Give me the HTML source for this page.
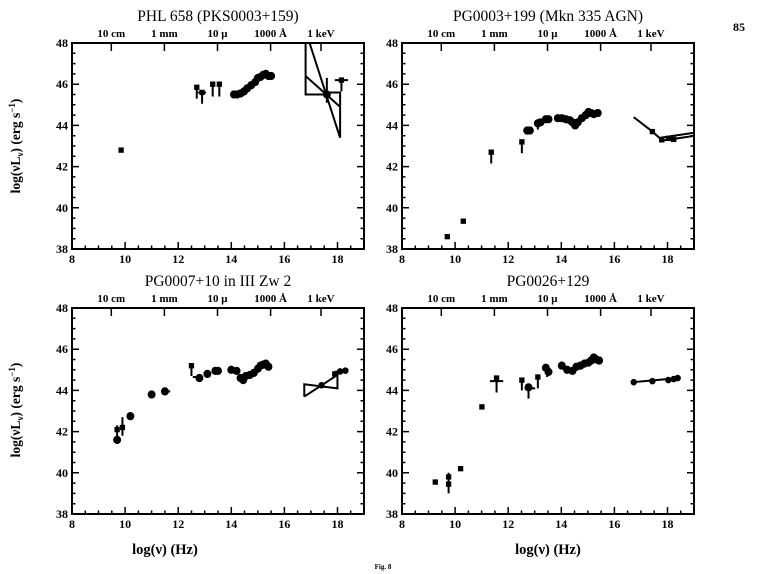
<!DOCTYPE html>
<html><head><meta charset="utf-8"><style>
html,body{margin:0;padding:0;background:#fff}
svg{display:block}
text{font-family:"Liberation Serif",serif;font-weight:bold;fill:#000}
.t{font-weight:normal}
.l{stroke:#000;stroke-width:2;fill:none;vector-effect:non-scaling-stroke}
.d rect,.d ellipse{fill:#000}
</style></head><body>
<svg width="768" height="574" viewBox="0 0 768 574">
<defs>
<g id="fr">
<rect x="0" y="0" width="292" height="206" fill="none" stroke="#000" stroke-width="2"/>
<path stroke="#000" stroke-width="1.5" fill="none" d="
M13.3 206V202.5M26.5 206V202.5M39.8 206V202.5M53.1 206V199M66.4 206V202.5M79.6 206V202.5M92.9 206V202.5M106.2 206V199M119.5 206V202.5M132.7 206V202.5M146 206V202.5M159.3 206V199M172.5 206V202.5M185.8 206V202.5M199.1 206V202.5M212.4 206V199M225.6 206V202.5M238.9 206V202.5M252.2 206V202.5M265.5 206V199M278.7 206V202.5
M39.3 0V8M92.4 0V8M145.5 0V8M198.6 0V8M249 0V8
M0 195.7H3.5M0 185.4H3.5M0 175.1H3.5M0 164.8H7M0 154.5H3.5M0 144.2H3.5M0 133.9H3.5M0 123.6H7M0 113.3H3.5M0 103H3.5M0 92.7H3.5M0 82.4H7M0 72.1H3.5M0 61.8H3.5M0 51.5H3.5M0 41.2H7M0 30.9H3.5M0 20.6H3.5M0 10.3H3.5
M292 195.7H288.5M292 185.4H288.5M292 175.1H288.5M292 164.8H285M292 154.5H288.5M292 144.2H288.5M292 133.9H288.5M292 123.6H285M292 113.3H288.5M292 103H288.5M292 92.7H288.5M292 82.4H285M292 72.1H288.5M292 61.8H288.5M292 51.5H288.5M292 41.2H285M292 30.9H288.5M292 20.6H288.5M292 10.3H288.5"/>
</g>
</defs>

<text x="733" y="31" font-size="12">85</text>
<text x="383" y="569" font-size="7" text-anchor="middle">Fig. 8</text>
<text transform="translate(20,146) rotate(-90)" font-size="13.5" text-anchor="middle">log(νL<tspan font-size="9" dy="3">ν</tspan><tspan dy="-3">) (erg s</tspan><tspan font-size="9" dy="-5">−1</tspan><tspan dy="5">)</tspan></text>
<text transform="translate(20,410) rotate(-90)" font-size="13.5" text-anchor="middle">log(νL<tspan font-size="9" dy="3">ν</tspan><tspan dy="-3">) (erg s</tspan><tspan font-size="9" dy="-5">−1</tspan><tspan dy="5">)</tspan></text>
<text x="165" y="554" font-size="14.5" text-anchor="middle">log(ν) (Hz)</text>
<text x="548" y="554" font-size="14.5" text-anchor="middle">log(ν) (Hz)</text>

<text class="t" x="218" y="21" font-size="15.5" text-anchor="middle">PHL 658 (PKS0003+159)</text>
<text class="t" x="548" y="21" font-size="15.5" text-anchor="middle">PG0003+199 (Mkn 335 AGN)</text>
<text class="t" x="218" y="286" font-size="15.5" text-anchor="middle">PG0007+10 in III Zw 2</text>
<text class="t" x="548" y="286" font-size="15.5" text-anchor="middle">PG0026+129</text>

<g transform="translate(72,43)">
<use href="#fr"/>
<g font-size="11" text-anchor="middle"><text x="39.3" y="-6">10 cm</text><text x="92.4" y="-6">1 mm</text><text x="145.5" y="-6">10 μ</text><text x="198.6" y="-6">1000 Å</text><text x="249" y="-6">1 keV</text></g>
<g font-size="12" text-anchor="middle"><text x="0" y="220">8</text><text x="53.1" y="220">10</text><text x="106.2" y="220">12</text><text x="159.3" y="220">14</text><text x="212.4" y="220">16</text><text x="265.5" y="220">18</text></g>
<g font-size="12" text-anchor="end"><text x="-4" y="210">38</text><text x="-4" y="168.8">40</text><text x="-4" y="127.6">42</text><text x="-4" y="86.4">44</text><text x="-4" y="45.2">46</text><text x="-4" y="4">48</text></g>
</g>
<g transform="translate(402,43)">
<use href="#fr"/>
<g font-size="11" text-anchor="middle"><text x="39.3" y="-6">10 cm</text><text x="92.4" y="-6">1 mm</text><text x="145.5" y="-6">10 μ</text><text x="198.6" y="-6">1000 Å</text><text x="249" y="-6">1 keV</text></g>
<g font-size="12" text-anchor="middle"><text x="0" y="220">8</text><text x="53.1" y="220">10</text><text x="106.2" y="220">12</text><text x="159.3" y="220">14</text><text x="212.4" y="220">16</text><text x="265.5" y="220">18</text></g>
<g font-size="12" text-anchor="end"><text x="-4" y="210">38</text><text x="-4" y="168.8">40</text><text x="-4" y="127.6">42</text><text x="-4" y="86.4">44</text><text x="-4" y="45.2">46</text><text x="-4" y="4">48</text></g>
</g>
<g transform="translate(72,308)">
<use href="#fr"/>
<g font-size="11" text-anchor="middle"><text x="39.3" y="-6">10 cm</text><text x="92.4" y="-6">1 mm</text><text x="145.5" y="-6">10 μ</text><text x="198.6" y="-6">1000 Å</text><text x="249" y="-6">1 keV</text></g>
<g font-size="12" text-anchor="middle"><text x="0" y="220">8</text><text x="53.1" y="220">10</text><text x="106.2" y="220">12</text><text x="159.3" y="220">14</text><text x="212.4" y="220">16</text><text x="265.5" y="220">18</text></g>
<g font-size="12" text-anchor="end"><text x="-4" y="210">38</text><text x="-4" y="168.8">40</text><text x="-4" y="127.6">42</text><text x="-4" y="86.4">44</text><text x="-4" y="45.2">46</text><text x="-4" y="4">48</text></g>
</g>
<g transform="translate(402,308)">
<use href="#fr"/>
<g font-size="11" text-anchor="middle"><text x="39.3" y="-6">10 cm</text><text x="92.4" y="-6">1 mm</text><text x="145.5" y="-6">10 μ</text><text x="198.6" y="-6">1000 Å</text><text x="249" y="-6">1 keV</text></g>
<g font-size="12" text-anchor="middle"><text x="0" y="220">8</text><text x="53.1" y="220">10</text><text x="106.2" y="220">12</text><text x="159.3" y="220">14</text><text x="212.4" y="220">16</text><text x="265.5" y="220">18</text></g>
<g font-size="12" text-anchor="end"><text x="-4" y="210">38</text><text x="-4" y="168.8">40</text><text x="-4" y="127.6">42</text><text x="-4" y="86.4">44</text><text x="-4" y="45.2">46</text><text x="-4" y="4">48</text></g>
</g>

<svg x="72" y="43" width="292" height="206" viewBox="8 -48 11 10" preserveAspectRatio="none" overflow="hidden" class="d">
<rect x="9.75" y="-42.93" width=".2" height=".26"/>
<rect x="12.6" y="-45.98" width=".2" height=".26"/>
<rect x="12.8" y="-45.73" width=".2" height=".26"/>
<rect x="13.2" y="-46.13" width=".2" height=".26"/>
<rect x="13.45" y="-46.13" width=".2" height=".26"/>
<rect x="18.05" y="-46.33" width=".2" height=".26"/>
<path class="l" d="M12.7 -45.85V-45.3M12.9 -45.6V-45.05M12.75 -45.6H13.05M13.3 -46V-45.4M13.55 -46V-45.4M18.15 -46.2V-45.65M17.9 -46.2H18.4"/>
<g><ellipse cx="14.1" cy="-45.5" rx=".15" ry=".2"/><ellipse cx="14.22" cy="-45.5" rx=".15" ry=".2"/><ellipse cx="14.35" cy="-45.55" rx=".15" ry=".2"/><ellipse cx="14.48" cy="-45.65" rx=".15" ry=".2"/><ellipse cx="14.6" cy="-45.8" rx=".15" ry=".2"/><ellipse cx="14.75" cy="-45.95" rx=".15" ry=".2"/><ellipse cx="14.9" cy="-46.1" rx=".15" ry=".2"/><ellipse cx="15.0" cy="-46.3" rx=".15" ry=".2"/><ellipse cx="15.1" cy="-46.35" rx=".15" ry=".2"/><ellipse cx="15.2" cy="-46.45" rx=".15" ry=".2"/><ellipse cx="15.3" cy="-46.5" rx=".15" ry=".2"/><ellipse cx="15.4" cy="-46.4" rx=".15" ry=".2"/><ellipse cx="15.5" cy="-46.4" rx=".15" ry=".2"/></g>
<path class="l" d="M16.8 -48V-45.5H17.55M17.55 -45.6H18.1V-43.4M16.8 -46.4L18.1 -44.9M16.95 -48L18.1 -43.4M17.6 -45.1V-46.3"/>
<ellipse cx="17.6" cy="-45.5" rx=".15" ry=".2"/>
</svg>

<svg x="402" y="43" width="293" height="206" viewBox="8 -48 11 10" preserveAspectRatio="none" overflow="hidden" class="d">
<rect x="9.6" y="-38.73" width=".2" height=".26"/>
<rect x="10.2" y="-39.48" width=".2" height=".26"/>
<rect x="11.25" y="-42.83" width=".2" height=".26"/>
<rect x="12.4" y="-43.33" width=".2" height=".26"/>
<rect x="17.3" y="-43.83" width=".2" height=".26"/>
<rect x="17.65" y="-43.43" width=".2" height=".26"/>
<rect x="17.9" y="-43.5" width=".2" height=".26"/>
<rect x="18.1" y="-43.45" width=".2" height=".26"/>
<path class="l" d="M11.35 -42.7V-42.15M12.5 -43.2V-42.65M13.1 -44.1V-43.8M16.7 -44.4L17.4 -43.7L17.75 -43.3M17.7 -43.25L19 -43.5M17.7 -43.4L19 -43.65"/>
<g><ellipse cx="12.7" cy="-43.75" rx=".15" ry=".2"/><ellipse cx="12.8" cy="-43.75" rx=".15" ry=".2"/><ellipse cx="13.1" cy="-44.1" rx=".15" ry=".2"/><ellipse cx="13.2" cy="-44.15" rx=".15" ry=".2"/><ellipse cx="13.4" cy="-44.3" rx=".15" ry=".2"/><ellipse cx="13.5" cy="-44.3" rx=".15" ry=".2"/><ellipse cx="13.85" cy="-44.35" rx=".15" ry=".2"/><ellipse cx="14.0" cy="-44.35" rx=".15" ry=".2"/><ellipse cx="14.15" cy="-44.3" rx=".15" ry=".2"/><ellipse cx="14.3" cy="-44.25" rx=".15" ry=".2"/><ellipse cx="14.4" cy="-44.15" rx=".15" ry=".2"/><ellipse cx="14.5" cy="-44.0" rx=".15" ry=".2"/><ellipse cx="14.6" cy="-44.15" rx=".15" ry=".2"/><ellipse cx="14.75" cy="-44.35" rx=".15" ry=".2"/><ellipse cx="14.9" cy="-44.5" rx=".15" ry=".2"/><ellipse cx="15.0" cy="-44.65" rx=".15" ry=".2"/><ellipse cx="15.1" cy="-44.6" rx=".15" ry=".2"/><ellipse cx="15.2" cy="-44.55" rx=".15" ry=".2"/><ellipse cx="15.35" cy="-44.6" rx=".15" ry=".2"/></g>
</svg>

<svg x="72" y="308" width="292" height="206" viewBox="8 -48 11 10" preserveAspectRatio="none" overflow="hidden" class="d">
<rect x="9.6" y="-42.23" width=".2" height=".26"/>
<rect x="9.8" y="-42.33" width=".2" height=".26"/>
<rect x="12.4" y="-45.33" width=".2" height=".26"/>
<rect x="17.8" y="-44.93" width=".2" height=".26"/>
<path class="l" d="M9.7 -41.4V-42.3M9.9 -41.8V-42.7M11.4 -43.95H11.7M12.5 -45.2V-44.7M12.55 -44.65H12.9M16.75 -43.7V-44.3L18 -44.1V-44.75L16.75 -43.7M17.9 -44.9L18.4 -45"/>
<g><ellipse cx="9.7" cy="-41.6" rx=".15" ry=".2"/><ellipse cx="10.2" cy="-42.75" rx=".15" ry=".2"/><ellipse cx="11.0" cy="-43.8" rx=".15" ry=".2"/><ellipse cx="11.5" cy="-43.95" rx=".15" ry=".2"/><ellipse cx="12.8" cy="-44.6" rx=".15" ry=".2"/><ellipse cx="13.1" cy="-44.8" rx=".15" ry=".2"/><ellipse cx="13.4" cy="-44.95" rx=".15" ry=".2"/><ellipse cx="13.5" cy="-44.95" rx=".15" ry=".2"/><ellipse cx="14.0" cy="-45.0" rx=".15" ry=".2"/><ellipse cx="14.2" cy="-44.95" rx=".15" ry=".2"/><ellipse cx="14.35" cy="-44.6" rx=".15" ry=".2"/><ellipse cx="14.45" cy="-44.5" rx=".15" ry=".2"/><ellipse cx="14.55" cy="-44.7" rx=".15" ry=".2"/><ellipse cx="14.7" cy="-44.75" rx=".15" ry=".2"/><ellipse cx="14.85" cy="-44.85" rx=".15" ry=".2"/><ellipse cx="15.0" cy="-45.05" rx=".15" ry=".2"/><ellipse cx="15.1" cy="-45.2" rx=".15" ry=".2"/><ellipse cx="15.2" cy="-45.25" rx=".15" ry=".2"/><ellipse cx="15.3" cy="-45.3" rx=".15" ry=".2"/><ellipse cx="15.4" cy="-45.15" rx=".15" ry=".2"/><ellipse cx="18.1" cy="-44.92" rx=".12" ry=".16"/><ellipse cx="18.3" cy="-44.96" rx=".12" ry=".16"/><ellipse cx="17.4" cy="-44.25" rx=".12" ry=".16"/></g>
</svg>

<svg x="402" y="308" width="293" height="206" viewBox="8 -48 11 10" preserveAspectRatio="none" overflow="hidden" class="d">
<rect x="9.15" y="-39.68" width=".2" height=".26"/>
<rect x="9.65" y="-39.93" width=".2" height=".26"/>
<rect x="9.65" y="-39.58" width=".2" height=".26"/>
<rect x="10.1" y="-40.33" width=".2" height=".26"/>
<rect x="10.9" y="-43.33" width=".2" height=".26"/>
<rect x="11.45" y="-44.73" width=".2" height=".26"/>
<rect x="12.4" y="-44.63" width=".2" height=".26"/>
<rect x="13.0" y="-44.78" width=".2" height=".26"/>
<path class="l" d="M9.75 -39.0V-40.0M11.55 -44.6V-43.9M11.3 -44.45H11.8M12.5 -44.5V-44M12.75 -44.1V-43.6M12.6 -44.1H13M13.1 -44.65V-44.1M13.45 -45.1V-44.65M16.7 -44.4L18.4 -44.6"/>
<g><ellipse cx="12.75" cy="-44.15" rx=".15" ry=".2"/><ellipse cx="13.4" cy="-45.1" rx=".15" ry=".2"/><ellipse cx="13.5" cy="-44.9" rx=".15" ry=".2"/><ellipse cx="14.0" cy="-45.2" rx=".15" ry=".2"/><ellipse cx="14.2" cy="-45.0" rx=".15" ry=".2"/><ellipse cx="14.4" cy="-44.95" rx=".15" ry=".2"/><ellipse cx="14.55" cy="-45.15" rx=".15" ry=".2"/><ellipse cx="14.7" cy="-45.2" rx=".15" ry=".2"/><ellipse cx="14.85" cy="-45.3" rx=".15" ry=".2"/><ellipse cx="15.0" cy="-45.35" rx=".15" ry=".2"/><ellipse cx="15.1" cy="-45.45" rx=".15" ry=".2"/><ellipse cx="15.2" cy="-45.6" rx=".15" ry=".2"/><ellipse cx="15.3" cy="-45.5" rx=".15" ry=".2"/><ellipse cx="15.4" cy="-45.45" rx=".15" ry=".2"/><ellipse cx="16.7" cy="-44.4" rx=".12" ry=".16"/><ellipse cx="17.4" cy="-44.45" rx=".12" ry=".16"/><ellipse cx="18.0" cy="-44.5" rx=".12" ry=".16"/><ellipse cx="18.2" cy="-44.55" rx=".12" ry=".16"/><ellipse cx="18.35" cy="-44.6" rx=".12" ry=".16"/></g>
</svg>
</svg>
</body></html>
